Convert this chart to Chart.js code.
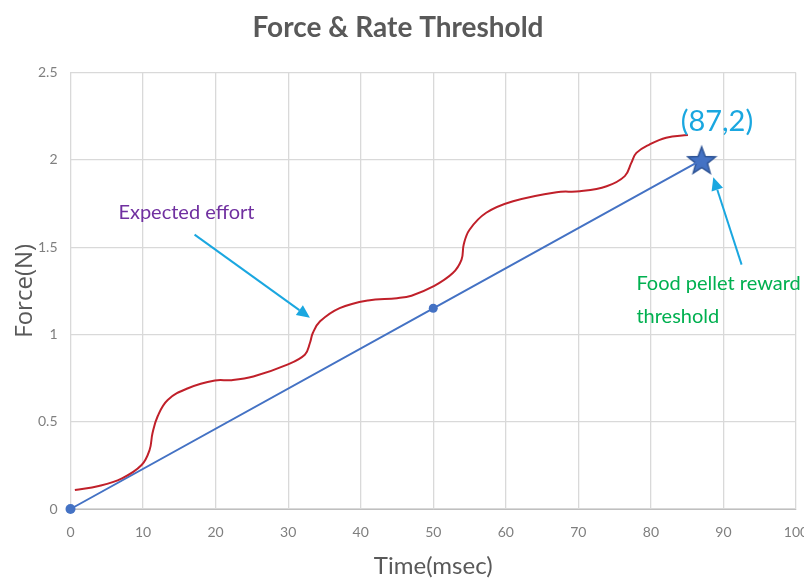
<!DOCTYPE html>
<html>
<head>
<meta charset="utf-8">
<script src="https://cdn.jsdelivr.net/npm/chart.js@4.4.1/dist/chart.umd.min.js"></script>
<style>
  html, body { margin: 0; padding: 0; background: #fff; }
  #wrap { width: 804px; height: 585px; }
</style>
</head>
<body>
<div id="wrap"><canvas id="forceChart"></canvas></div>
<script>
// values
var effortX = [0.6, 3.9, 7.1, 9.8, 10.9, 11.3, 12, 13.4, 16.2, 19.9, 22.2, 25.2, 29.8, 32.3, 33, 33.4, 34.4, 37.1, 41, 45, 47, 50, 52.7, 53.9, 54.2, 55, 57.3, 61, 67, 70.2, 73.9, 76.4, 77.3, 78, 79.8, 82.1, 85.1];
var effortY = [0.109, 0.132, 0.176, 0.252, 0.338, 0.434, 0.53, 0.625, 0.692, 0.736, 0.738, 0.759, 0.826, 0.884, 0.951, 1.008, 1.075, 1.151, 1.195, 1.208, 1.222, 1.275, 1.352, 1.429, 1.515, 1.6, 1.697, 1.763, 1.815, 1.82, 1.849, 1.907, 1.983, 2.04, 2.088, 2.127, 2.142];

var rateX = [0, 50, 87];
var rateY = [0, 1.15, 2];

var thresholdX = [87];
var thresholdY = [2];

var yTicks = [0, 0.5, 1, 1.5, 2, 2.5];
var xTicks = [0, 10, 20, 30, 40, 50, 60, 70, 80, 90, 100];

var soft = "Lato, 'Open Sans', sans-serif";

function pts(xs, ys) {
  var out = [];
  for (var i = 0; i < xs.length; i++) out.push({ x: xs[i], y: ys[i] });
  return out;
}

// filled five point star for the threshold marker
function makeStar(size) {
  var c = document.createElement('canvas');
  c.width = size; c.height = size;
  var g = c.getContext('2d');
  var cx = size / 2, cy = size / 2 + 1.5, R = size / 2 - 1.5, r = R * 0.42;
  g.beginPath();
  for (var i = 0; i < 10; i++) {
    var rad = i % 2 === 0 ? R : r;
    var a = -Math.PI / 2 + i * Math.PI / 5;
    var px = cx + rad * Math.cos(a), py = cy + rad * Math.sin(a);
    if (i === 0) g.moveTo(px, py); else g.lineTo(px, py);
  }
  g.closePath();
  g.fillStyle = '#4472C4';
  g.fill();
  g.lineWidth = 1.5;
  g.strokeStyle = '#2F5597';
  g.stroke();
  return c;
}

function arrow(g, x1, y1, x2, y2, color) {
  var ang = Math.atan2(y2 - y1, x2 - x1);
  var hl = 13, hw = 6;
  var bx = x2 - hl * Math.cos(ang), by = y2 - hl * Math.sin(ang);
  g.strokeStyle = color;
  g.fillStyle = color;
  g.lineWidth = 2;
  g.beginPath();
  g.moveTo(x1, y1);
  g.lineTo(bx, by);
  g.stroke();
  g.beginPath();
  g.moveTo(x2, y2);
  g.lineTo(bx + hw * Math.sin(ang), by - hw * Math.cos(ang));
  g.lineTo(bx - hw * Math.sin(ang), by + hw * Math.cos(ang));
  g.closePath();
  g.fill();
}

var notes = {
  id: 'notes',
  afterDatasetsDraw: function (chart) {
    var g = chart.ctx, xs = chart.scales.x, ys = chart.scales.y;
    var px = function (v) { return xs.getPixelForValue(v); };
    var py = function (v) { return ys.getPixelForValue(v); };
    g.save();
    g.textBaseline = 'middle';
    g.textAlign = 'left';

    g.font = '20px ' + soft;
    g.fillStyle = '#7030A0';
    g.fillText('Expected effort', px(6.6), py(1.7));
    arrow(g, px(17.1), py(1.572), px(33), py(1.096), '#1AA7E0');

    g.font = '29px ' + soft;
    g.fillStyle = '#1AA7E0';
    g.fillText('(87,2)', px(84.1), py(2.22));

    g.font = '20px ' + soft;
    g.fillStyle = '#00B050';
    g.fillText('Food pellet reward', px(78), py(1.29));
    g.fillText('threshold', px(78), py(1.105));
    arrow(g, px(92.5), py(1.4), px(88.6), py(1.9), '#1AA7E0');
    g.restore();
  }
};

new Chart(document.getElementById('forceChart'), {
  type: 'scatter',
  data: {
    datasets: [{
      label: 'Expected effort',
      data: pts(effortX, effortY),
      showLine: true,
      borderColor: '#C0202A',
      borderWidth: 2,
      pointRadius: 0,
      tension: 0.4
    }, {
      label: 'Rate',
      data: pts(rateX, rateY),
      showLine: true,
      clip: false,
      borderColor: '#4472C4',
      backgroundColor: '#4472C4',
      borderWidth: 2,
      pointRadius: [5, 4.5, 0],
      pointBorderWidth: 0
    }, {
      label: 'Threshold',
      data: pts(thresholdX, thresholdY),
      clip: false,
      pointStyle: makeStar(32),
      pointRadius: 16
    }]
  },
  options: {
    responsive: true,
    maintainAspectRatio: false,
    animation: false,
    layout: { autoPadding: false, padding: { left: 0, right: 8, top: 0, bottom: 0 } },
    plugins: {
      legend: { display: false },
      tooltip: { enabled: false },
      title: {
        display: true,
        text: 'Force & Rate Threshold',
        color: '#595959',
        font: { size: 28, weight: 'bold', family: soft },
        padding: { top: 11, bottom: 28 }
      }
    },
    scales: {
      x: {
        type: 'linear',
        min: 0, max: 100,
        afterBuildTicks: function (s) { s.ticks = xTicks.map(function (v) { return { value: v }; }); },
        afterFit: function (s) { s.height = 76; s.paddingRight = 0; s.paddingLeft = 0; },
        grid: { color: '#D9D9D9', lineWidth: 1.3, drawTicks: false },
        border: { color: '#BFBFBF' },
        ticks: { color: '#7F7F7F', font: { size: 14, family: soft }, padding: 15 },
        title: { display: true, text: 'Time(msec)', color: '#595959', font: { size: 24, family: soft }, padding: { top: 6, bottom: 4 } }
      },
      y: {
        min: 0, max: 2.5,
        afterBuildTicks: function (s) { s.ticks = yTicks.map(function (v) { return { value: v }; }); },
        afterFit: function (s) { s.width = 70.5; },
        grid: { color: '#D9D9D9', lineWidth: 1.3, drawTicks: false },
        border: { color: '#D9D9D9' },
        ticks: {
          color: '#7F7F7F', font: { size: 14, family: soft }, padding: 13,
          callback: function (v) { return String(v); }
        },
        title: { display: true, text: 'Force(N)', color: '#595959', font: { size: 24, family: "'Open Sans', sans-serif" }, padding: { top: 11, bottom: 0 } }
      }
    }
  },
  plugins: [notes]
});
</script>
</body>
</html>
